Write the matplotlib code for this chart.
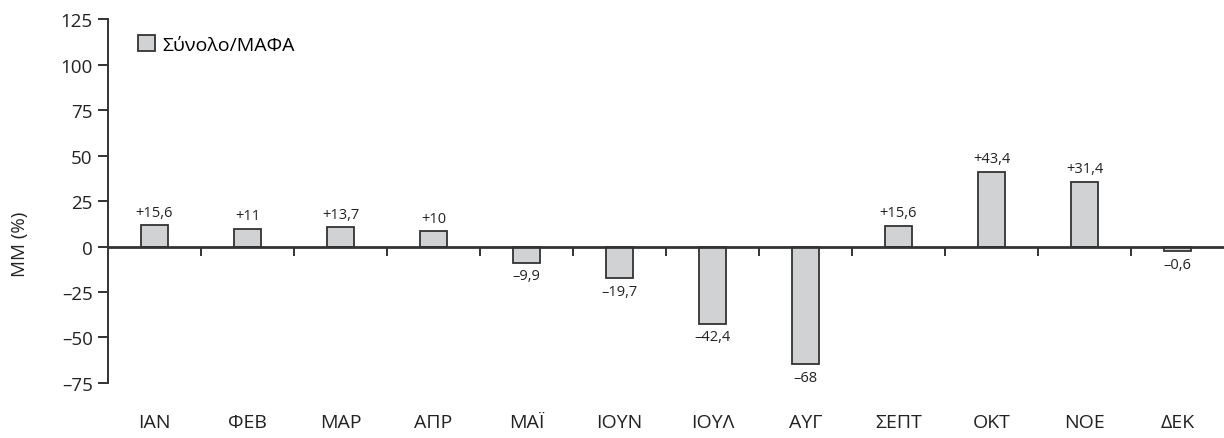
import matplotlib.pyplot as plt
from matplotlib.patches import Patch

plt.rcParams['font.family'] = ['Open Sans', 'DejaVu Sans']

months = ['ΙΑΝ', 'ΦΕΒ', 'ΜΑΡ', 'ΑΠΡ', 'ΜΑΪ', 'ΙΟΥΝ', 'ΙΟΥΛ', 'ΑΥΓ', 'ΣΕΠΤ', 'ΟΚΤ', 'ΝΟΕ', 'ΔΕΚ']
# bar heights as drawn (they do not match the printed labels exactly)
heights = [11.7, 9.7, 10.6, 8.4, -8.9, -17.5, -42.4, -64.8, 11.5, 41.1, 35.7, -2.5]
value_labels = ['+15,6', '+11', '+13,7', '+10', '–9,9', '–19,7', '–42,4', '–68',
                '+15,6', '+43,4', '+31,4', '–0,6']
yticks = [-75, -50, -25, 0, 25, 50, 75, 100, 125]
ytick_labels = ['–75', '–50', '–25', '0', '25', '50', '75', '100', '125']

dark = '#333333'
fill = '#d1d2d4'

fig = plt.figure(figsize=(12.24, 4.39), dpi=100)
ax = fig.add_axes([0.0882, 0.1253, 0.9118, 0.8291])

x = list(range(len(months)))
bars = ax.bar(x, heights, width=0.3, color=fill, edgecolor=dark, linewidth=1.3, zorder=2)

for xi, h, lab in zip(x, heights, value_labels):
    if h >= 0:
        ax.annotate(lab, (xi, h), xytext=(0, 4), textcoords='offset points',
                    ha='center', va='bottom', fontsize=10.5, color='#222222')
    else:
        ax.annotate(lab, (xi, h), xytext=(0, -4), textcoords='offset points',
                    ha='center', va='top', fontsize=10.5, color='#222222')

ax.set_xlim(-0.5, 11.5)
ax.set_ylim(-75, 125)

ax.spines['top'].set_visible(False)
ax.spines['right'].set_visible(False)
ax.spines['bottom'].set_position(('data', 0))
ax.spines['bottom'].set_linewidth(2)
ax.spines['bottom'].set_color(dark)
ax.spines['bottom'].set_zorder(3)
ax.spines['left'].set_linewidth(1.4)
ax.spines['left'].set_color(dark)

ax.set_yticks(yticks)
ax.set_yticklabels(ytick_labels)
ax.tick_params(axis='y', direction='out', length=7, width=1.4, color=dark,
               labelsize=13.5, labelcolor='#222222', pad=4)

ax.set_xticks([i + 0.5 for i in range(len(months) - 1)])
ax.set_xticklabels([])
ax.tick_params(axis='x', direction='out', length=6.5, width=1.4, color=dark)

for xi, m in zip(x, months):
    ax.text(xi, -0.107, m, transform=ax.get_xaxis_transform(),
            ha='center', va='center', fontsize=14, color='#222222')

fig.text(20 / 1224, 1 - 244 / 439, 'MM (%)', rotation=90, ha='center', va='center',
         fontsize=13.5, color='#222222')

handle = Patch(facecolor=fill, edgecolor=dark, linewidth=1.3, label='Σύνολο/ΜΑΦΑ')
ax.legend(handles=[handle], loc='upper left', bbox_to_anchor=(0.027, 0.955), frameon=False,
          fontsize=14, handlelength=0.85, handleheight=0.85, handletextpad=0.4,
          borderaxespad=0, borderpad=0)

fig.savefig('out.png', dpi=100)
